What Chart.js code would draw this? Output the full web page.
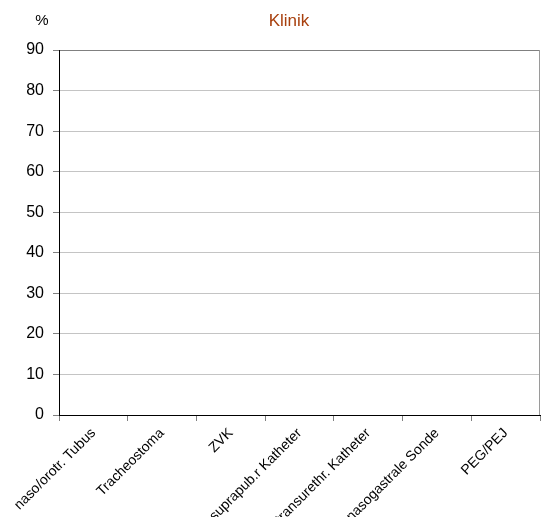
<!DOCTYPE html>
<html>
<head>
<meta charset="utf-8">
<script src="https://cdn.jsdelivr.net/npm/chart.js@4/dist/chart.umd.min.js"></script>
<style>
  html, body { margin: 0; padding: 0; background: #fff; overflow: hidden; }
  #wrap { width: 541px; height: 545px; }
</style>
</head>
<body>
<div id="wrap"><canvas id="chart"></canvas></div>
<script>
/* ── Data ─────────────────────────────────────────────── */
const categories = [
  'naso/orotr. Tubus',
  'Tracheostoma',
  'ZVK',
  'suprapub.r Katheter',
  'transurethr. Katheter',
  'nasogastrale Sonde',
  'PEG/PEJ',
];
const klinikLabel = 'Klinik';
const klinikValues = [0, 0, 0, 0, 0, 0, 0];
const yTicks = [0, 10, 20, 30, 40, 50, 60, 70, 80, 90];

const FONT = '"Liberation Sans", Arial, sans-serif';

/* ── Title, unit label and right frame ────────────────── */
const frame = {
  id: 'frame',
  afterDraw(chart) {
    const { ctx, chartArea: a } = chart;
    ctx.save();
    ctx.strokeStyle = '#9a9a9a';
    ctx.lineWidth = 1;
    ctx.beginPath();
    ctx.moveTo(Math.round(a.right) - 0.5, a.top);
    ctx.lineTo(Math.round(a.right) - 0.5, a.bottom);
    ctx.stroke();

    ctx.textBaseline = 'middle';
    ctx.textAlign = 'center';
    ctx.fillStyle = '#a8400e';
    ctx.font = '17px ' + FONT;
    ctx.fillText(klinikLabel, 289, 21);

    ctx.fillStyle = '#000';
    ctx.font = '15px ' + FONT;
    ctx.fillText('%', 42, 21);
    ctx.restore();
  }
};

new Chart(document.getElementById('chart'), {
  type: 'bar',
  data: {
    labels: categories,
    datasets: [{
      label: klinikLabel,
      data: klinikValues,
      backgroundColor: '#a8400e',
      borderWidth: 0,
    }],
  },
  options: {
    responsive: true,
    maintainAspectRatio: false,
    animation: false,
    layout: { padding: { top: 50, right: 1, left: 0, bottom: 0 } },
    plugins: {
      legend: { display: false },
      title: { display: false },
      tooltip: { enabled: false },
    },
    scales: {
      x: {
        offset: true,
        grid: {
          offset: true,
          drawOnChartArea: false,
          tickLength: 6,
          color: '#808080',
        },
        border: { color: '#000', width: 1 },
        ticks: {
          minRotation: 45,
          maxRotation: 45,
          padding: 4,
          color: '#000',
          font: { family: FONT, size: 14 },
        },
        afterFit(scale) { scale.height = 130; },
      },
      y: {
        min: 0,
        max: 90,
        grid: {
          tickLength: 6,
          color: ctx => (ctx.tick && ctx.tick.value === 90) ? '#808080' : '#c4c4c4',
          tickColor: '#808080',
        },
        border: { color: '#000', width: 1 },
        afterBuildTicks(scale) { scale.ticks = yTicks.map(v => ({ value: v })); },
        ticks: {
          padding: 9,
          color: '#000',
          font: { family: FONT, size: 16 },
        },
        afterFit(scale) { scale.width = 59; },
      },
    },
  },
  plugins: [frame],
});
</script>
</body>
</html>
